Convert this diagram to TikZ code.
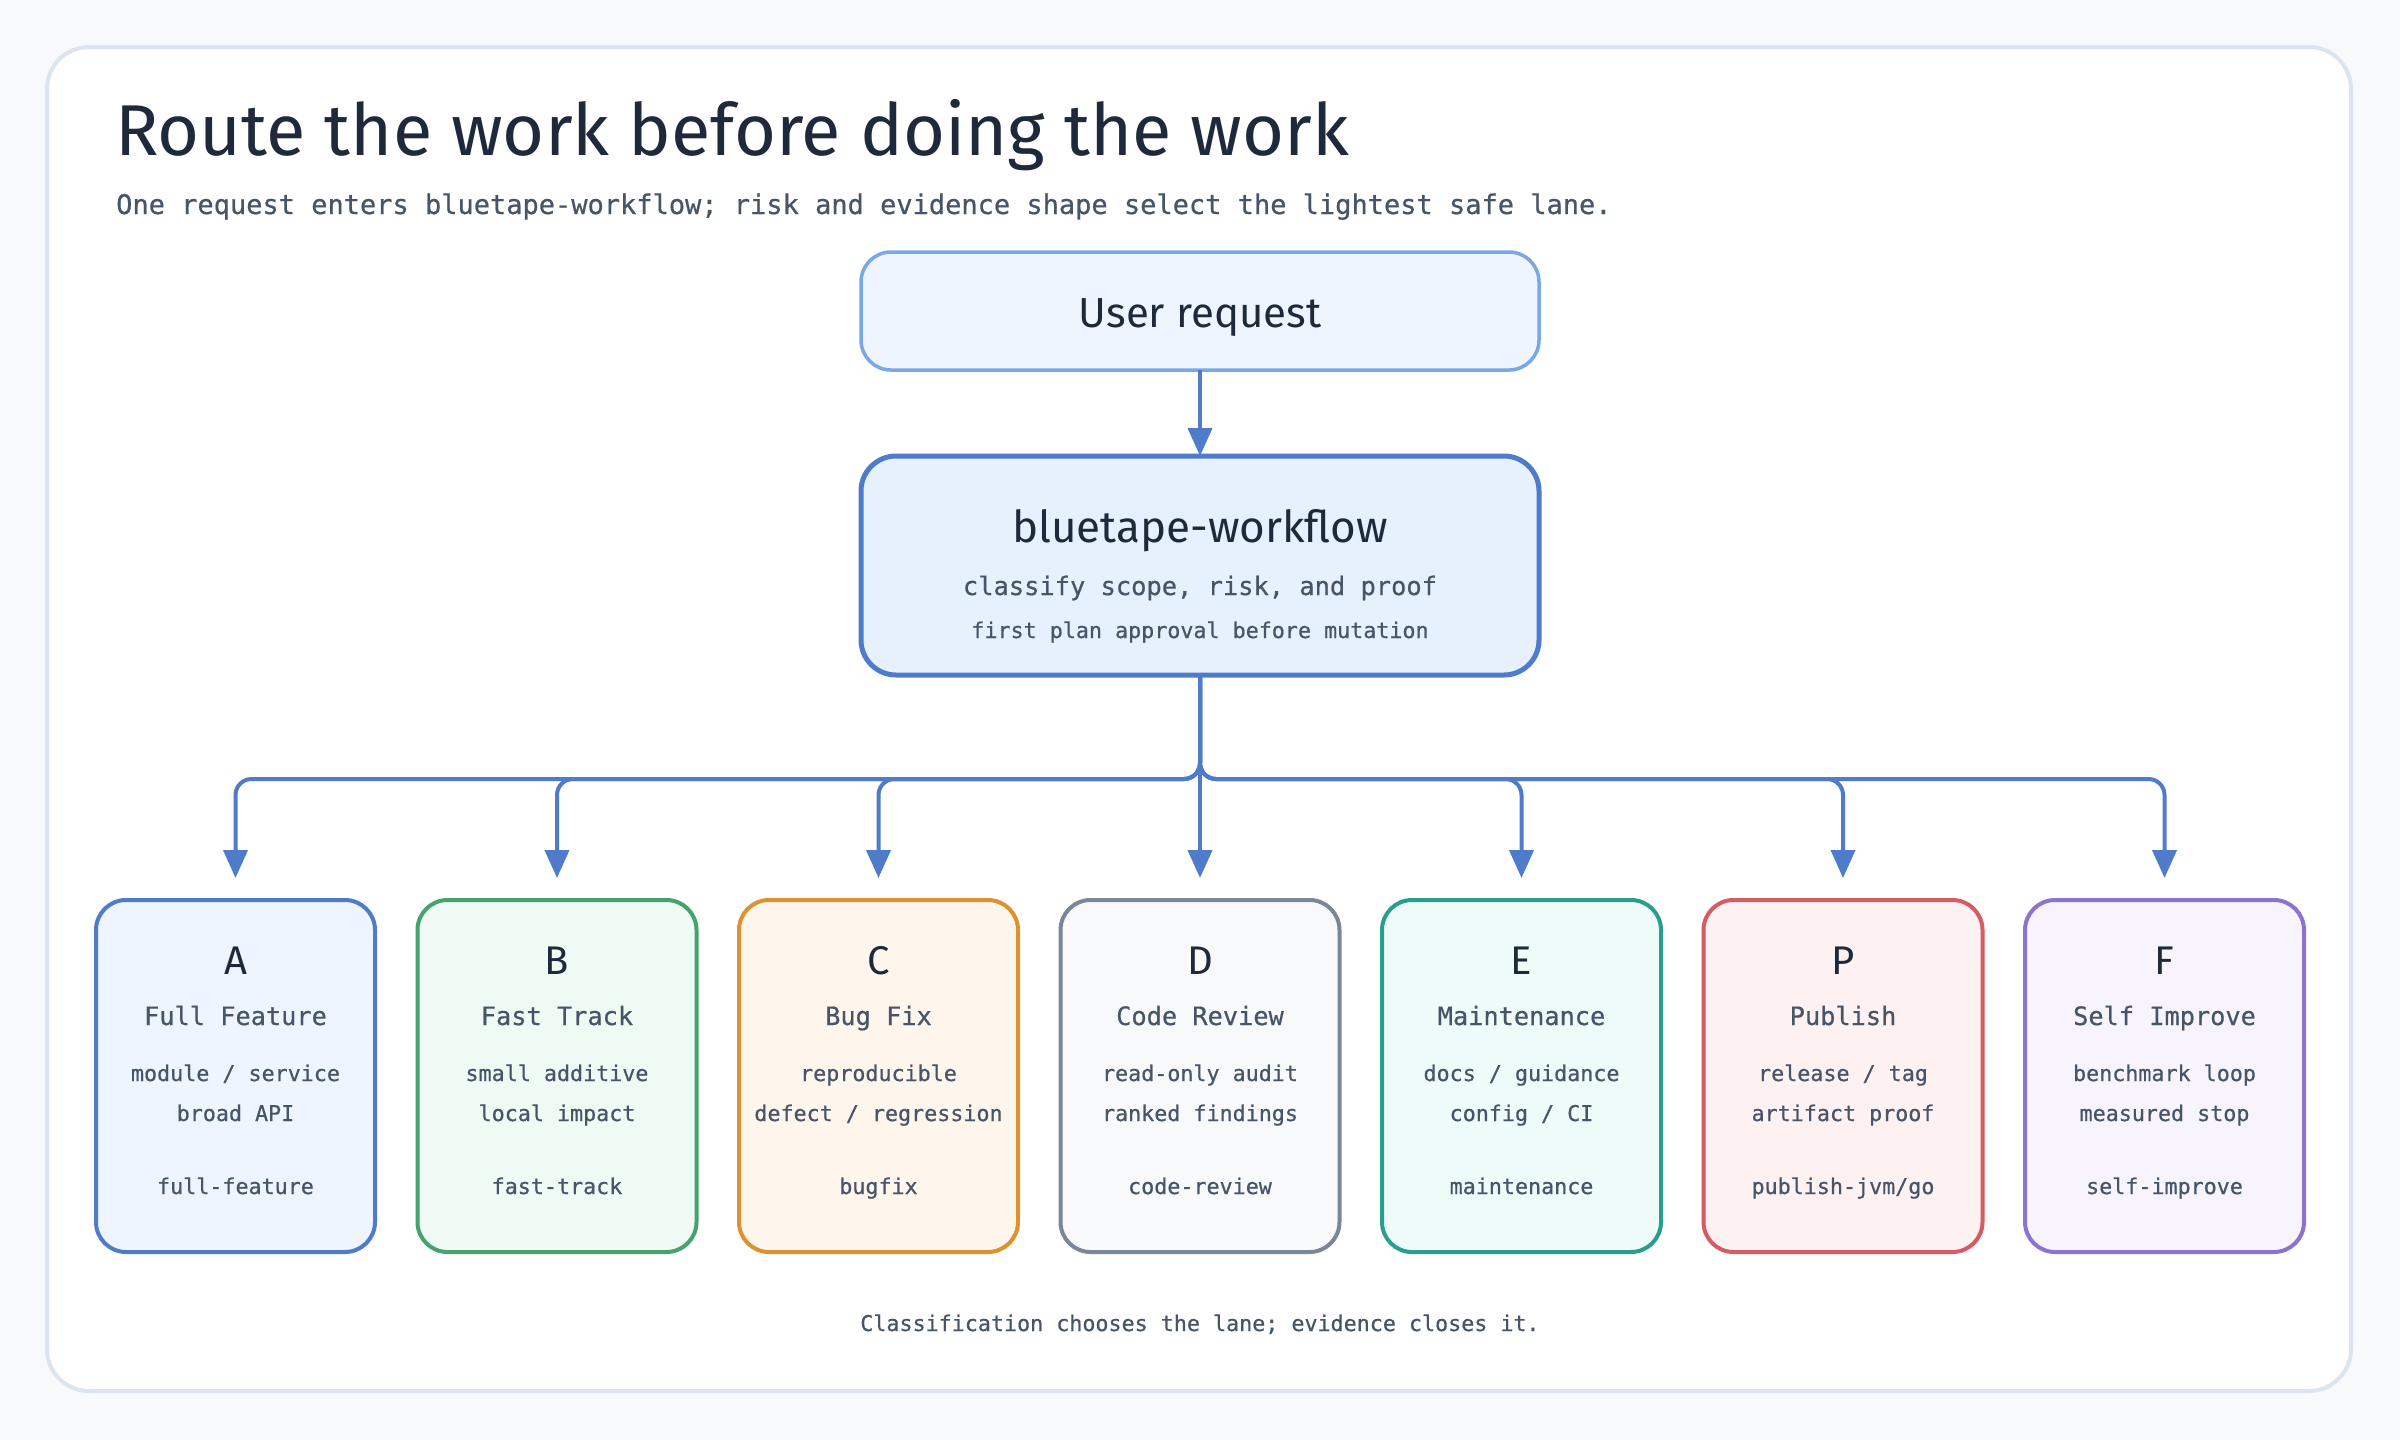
\documentclass[tikz,border=0pt]{standalone}
\usepackage{fontspec}
\setmainfont{Fira Sans}
\setmonofont[FakeBold=0.6]{DejaVu Sans Mono}
\newfontfamily\handfont{Fira Sans}
\usetikzlibrary{positioning,calc,arrows.meta}

\definecolor{pagebg}{HTML}{F7F9FC}
\definecolor{cardline}{HTML}{DCE4F0}
\definecolor{ink}{HTML}{1E293B}
\definecolor{slate}{HTML}{475569}
\definecolor{flowblue}{HTML}{4E7CCB}
\definecolor{reqline}{HTML}{7AA7E6}
\definecolor{reqfill}{HTML}{EEF5FE}
\definecolor{wffill}{HTML}{E7F0FD}
\definecolor{bdA}{HTML}{4E7CCB} \definecolor{bgA}{HTML}{EEF5FE}
\definecolor{bdB}{HTML}{46A36D} \definecolor{bgB}{HTML}{EEFAF3}
\definecolor{bdC}{HTML}{DB922F} \definecolor{bgC}{HTML}{FEF5EC}
\definecolor{bdD}{HTML}{7A8699} \definecolor{bgD}{HTML}{F7F9FB}
\definecolor{bdE}{HTML}{2A9D8F} \definecolor{bgE}{HTML}{EEFBF8}
\definecolor{bdP}{HTML}{D65C63} \definecolor{bgP}{HTML}{FEF1F2}
\definecolor{bdF}{HTML}{8B73CF} \definecolor{bgF}{HTML}{F8F4FE}

\tikzset{
  handtxt/.style={font=\handfont\fontsize{#1}{#1}\selectfont, text=ink, inner sep=0pt},
  monotxt/.style={font=\ttfamily\fontsize{#1}{#1}\selectfont, text=slate, inner sep=0pt},
  box/.style={rectangle, rounded corners=30pt, outer sep=0pt, inner sep=0pt},
  lane/.style={box, line width=4pt, minimum width=279pt, minimum height=352pt},
  flow/.style={draw=flowblue, line width=4pt, -{Triangle[length=28pt,width=24pt]}},
}

\begin{document}
\begin{tikzpicture}[x=1pt,y=-1pt]
    % Page and card
    \fill[pagebg] (0,0) rectangle (2400,1440);
    \useasboundingbox (0,0) rectangle (2400,1440);
    \draw[cardline, fill=white, line width=4pt, rounded corners=42pt] (47,47) rectangle (2351,1391);
    % Heading
    \node[handtxt=72, anchor=base west] (title) at (115,155) {Route the work before doing the work};
    \node[monotxt=27, anchor=base west] (subtitle) at (116,214) {One request enters bluetape-workflow; risk and evidence shape select the lightest safe lane.};
    % Request and router
    \node[box, draw=reqline, fill=reqfill, line width=3.5pt, minimum width=678pt, minimum height=118pt] (req) at (1200,311) {};
    \node[handtxt=42, anchor=base] (req-txt) at ($(req.center)+(0,16)$) {User request};
    \node[box, draw=flowblue, fill=wffill, line width=5pt, rounded corners=35pt, minimum width=678pt, minimum height=219pt] (wf) at (1200,565.5) {};
    \node[handtxt=44, anchor=base] (wf-name) at ($(wf.north)+(0,86)$) {bluetape-workflow};
    \node[monotxt=25.4, anchor=base] (wf-job) at ($(wf.north)+(0,139)$) {classify scope, risk, and proof};
    \node[monotxt=21.7, anchor=base] (wf-gate) at ($(wf.north)+(0,182)$) {first plan approval before mutation};
    % Lanes
    \foreach \k/\i/\name/\la/\lb/\tag in {
        A/0/Full Feature/{module / service}/broad API/full-feature,
        B/1/Fast Track/small additive/local impact/fast-track,
        C/2/Bug Fix/reproducible/{defect / regression}/bugfix,
        D/3/Code Review/read-only audit/ranked findings/code-review,
        E/4/Maintenance/{docs / guidance}/{config / CI}/maintenance,
        P/5/Publish/{release / tag}/artifact proof/{publish-jvm/go},
        F/6/Self Improve/benchmark loop/measured stop/self-improve}{
        \node[lane, draw=bd\k, fill=bg\k] (lane\k) at ({235.5+321.5*\i},1076) {};
        \node[handtxt=40, anchor=base] (lane\k-key) at ($(lane\k.north)+(0,74)$) {\k};
        \node[monotxt=25.3, anchor=base] (lane\k-name) at ($(lane\k.north)+(0,125)$) {\name};
        \node[monotxt=21.7, anchor=base] (lane\k-a) at ($(lane\k.north)+(0,181)$) {\la};
        \node[monotxt=21.7, anchor=base] (lane\k-b) at ($(lane\k.north)+(0,221)$) {\lb};
        \node[monotxt=21.7, anchor=base] (lane\k-tag) at ($(lane\k.north)+(0,294)$) {\tag};
    }
    % Connectors
    \draw[flow] (req) -- (wf);
    \coordinate (bus) at (1200,779);
    \foreach \k in {A,B,C,E,P,F}
        \draw[flow, rounded corners=16pt, shorten >=22pt] (wf.south) -- (wf.south |- bus) -| (lane\k.north);
    \draw[flow, shorten >=22pt] (wf.south) -- (laneD.north);
    % Footer
    \node[monotxt=21.7, anchor=base] (footer) at (1200,1331) {Classification chooses the lane; evidence closes it.};
\end{tikzpicture}
\end{document}
